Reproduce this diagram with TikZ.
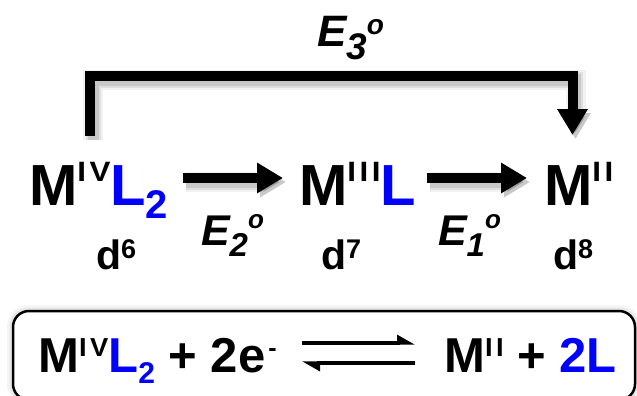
\documentclass[tikz,border=0pt]{standalone}
\usepackage{fontspec}
\setmainfont{Liberation Sans}
\usetikzlibrary{arrows.meta}
\newcommand{\fsz}[1]{\fontsize{#1}{#1}\selectfont}
% superscript roman numerals: size, horizontal stretch, text
\newcommand{\supnum}[3]{\scalebox{#2}[1]{\fsz{#1}#3}}
\definecolor{ligand}{RGB}{0,0,255}
\begin{document}
\begin{tikzpicture}[x=1pt,y=-1pt,
  every node/.style={inner sep=0pt, outer sep=0pt, anchor=base west, font=\bfseries},
  shadowed/.style={
    preaction={draw=black, opacity=0.05, line width=20pt, transform canvas={shift={(3pt,-4pt)}}},
    preaction={draw=black, opacity=0.08, line width=15pt, transform canvas={shift={(3pt,-4pt)}}},
    preaction={draw=black, opacity=0.10, line width=11pt, transform canvas={shift={(3pt,-4pt)}}}},
  bigarrow/.style={line width=10pt, line join=miter, -{Triangle[length=26pt,width=29pt]}, shadowed},
  eqline/.style={line width=3.2pt, -{Triangle[left,length=15pt,width=16pt]}},
  elabel/.style={font=\bfseries\itshape},
  boxshadow/.style={
    preaction={draw=black, opacity=0.04, line width=12pt},
    preaction={draw=black, opacity=0.06, line width=7pt}},
]
\useasboundingbox (0,0) rectangle (637,396);
\clip (0,0) rectangle (637,396);

% top bracket E3
\coordinate (b1) at (90,136);
\coordinate (b2) at (572.5,135);
\draw[bigarrow] (b1) |- (572.5,76) -- (b2);
\node[elabel] (e3) at (317,47) {\fsz{44}E\raisebox{-13pt}{\fsz{37}3}\raisebox{13pt}{\fsz{28}o}};

% species
\node (m4) at (29,205) {\fsz{58}M\raisebox{23.5pt}{\supnum{28}{1.12}{I\kern3.2pt V}}\textcolor{ligand}{L\raisebox{-13pt}{\fsz{40}2}}};
\node (m3) at (299,205) {\fsz{58}M\raisebox{23.5pt}{\supnum{28}{1.12}{I\kern3.2pt I\kern3.2pt I}}\textcolor{ligand}{L}};
\node (m2) at (544,205) {\fsz{58}M\raisebox{23.5pt}{\supnum{28}{1.12}{I\kern3.2pt I}}};

% arrows
\coordinate (a1s) at (183,178);
\coordinate (a1e) at (283,178);
\coordinate (a2s) at (427,178);
\coordinate (a2e) at (527,178);
\draw[bigarrow] (a1s) -- (a1e);
\draw[bigarrow] (a2s) -- (a2e);

\node[elabel] (e2) at (201,245) {\fsz{43}E\raisebox{-11pt}{\fsz{33}2}\raisebox{17pt}{\fsz{26}o}};
\node[elabel] (e1) at (438,245) {\fsz{43}E\raisebox{-11pt}{\fsz{33}1}\raisebox{17pt}{\fsz{26}o}};

% d counts
\node (d6) at (96,269) {\fsz{41}d\raisebox{11pt}{\fsz{27}6}};
\node (d7) at (321,269) {\fsz{41}d\raisebox{11pt}{\fsz{27}7}};
\node (d8) at (553,269) {\fsz{41}d\raisebox{11pt}{\fsz{27}8}};

% bottom box
\draw[line width=2.5pt, rounded corners=16pt, boxshadow, fill=white] (13,311) rectangle (635,400);
\node (lhs) at (38.4,372) {\fsz{49}M\raisebox{16pt}{\supnum{26}{1.05}{I\kern3.2pt V}}\textcolor{ligand}{L\raisebox{-11pt}{\fsz{30}2}} + 2e\kern3pt\raisebox{16pt}{\fsz{25}-}};
\node (rhs) at (444.4,372) {\fsz{49}M\raisebox{16pt}{\supnum{26}{1.05}{I\kern3.2pt I}} + \textcolor{ligand}{2L}};
\coordinate (u1) at (302,343);
\coordinate (u2) at (415,343);
\coordinate (l1) at (415,363);
\coordinate (l2) at (302,363);
\draw[eqline] (u1) -- (u2);
\draw[eqline] (l1) -- (l2);
\end{tikzpicture}
\end{document}
